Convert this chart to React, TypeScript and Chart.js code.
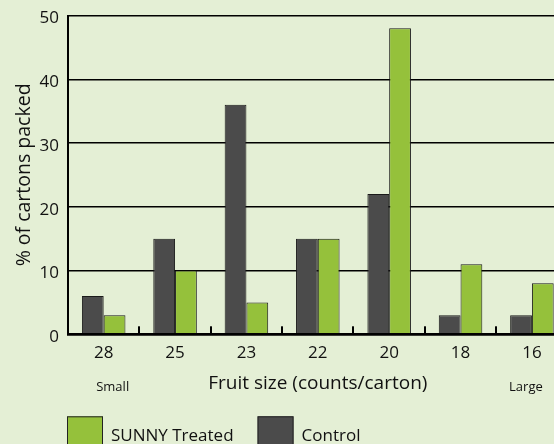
import React, { useEffect, useRef } from "react";
import { Chart, registerables } from "chart.js";

Chart.register(...registerables);

const categories = ["28", "25", "23", "22", "20", "18", "16"];
const controlValues = [6, 15, 36, 15, 22, 3, 3];
const treatedValues = [3, 10, 5, 15, 48, 11, 8];
const yTickValues = [0, 10, 20, 30, 40, 50];
const sizeEndLabels = ["Small", "Large"];
const seriesNames = ["Control", "SUNNY Treated"];

const FONT = "'Open Sans', 'Noto Sans', sans-serif";
const BG = "#e4efd5";
const GREEN = "#95c13b";
const DARK = "#4b4b4b";
const INK = "#111111";

const CANVAS_W = 580;
const CANVAS_H = 470;

const extrasPlugin = {
  id: "extras",
  afterDraw(chart: any) {
    const ctx = chart.ctx;
    const xs = chart.scales.x;
    const area = chart.chartArea;
    ctx.save();
    // inward tick marks at category boundaries
    ctx.fillStyle = "#000";
    for (let i = 1; i < categories.length; i++) {
      const x = Math.round((xs.getPixelForTick(i - 1) + xs.getPixelForTick(i)) / 2);
      ctx.fillRect(x - 1, area.bottom - 8, 2, 8);
    }

    // Small / Large
    ctx.fillStyle = INK;
    ctx.font = `13px ${FONT}`;
    ctx.textAlign = "center";
    ctx.textBaseline = "alphabetic";
    ctx.fillText(sizeEndLabels[0], xs.getPixelForTick(0) + 9, area.bottom + 57);
    ctx.fillText(sizeEndLabels[1], xs.getPixelForTick(categories.length - 1) - 6, area.bottom + 57);

    // legend (treated first, then control)
    const ds = chart.data.datasets;
    const order = [1, 0];
    let x = area.left - 1;
    const top = area.bottom + 82;
    ctx.font = `17px ${FONT}`;
    ctx.textAlign = "left";
    for (const idx of order) {
      const d = ds[idx];
      ctx.fillStyle = d.backgroundColor;
      ctx.fillRect(x, top, 36, 40);
      ctx.strokeStyle = "#222";
      ctx.lineWidth = 1;
      ctx.strokeRect(x + 0.5, top + 0.5, 35, 40);
      ctx.fillStyle = INK;
      ctx.fillText(d.label, x + 44, top + 25);
      const w = ctx.measureText(d.label).width;
      x = x + 44 + w + 24;
    }
    ctx.restore();
  },
};

export default function App() {
  const ref = useRef<HTMLCanvasElement>(null);
  useEffect(() => {
    const canvas = ref.current!;
    const chart = new Chart(canvas, {
      type: "bar",
      data: {
        labels: categories,
        datasets: [
          {
            label: seriesNames[0],
            data: controlValues,
            backgroundColor: DARK,
            borderColor: "#1a1a1a",
            borderWidth: 1,
            categoryPercentage: 0.61,
            barPercentage: 1,
          },
          {
            label: seriesNames[1],
            data: treatedValues,
            backgroundColor: GREEN,
            borderColor: "#1a1a1a",
            borderWidth: 1,
            categoryPercentage: 0.61,
            barPercentage: 1,
          },
        ],
      },
      options: {
        responsive: false,
        animation: false,
        devicePixelRatio: 1,
        layout: { padding: { left: 0, top: 15.5, right: CANVAS_W - 567.6, bottom: 0 } },
        plugins: {
          legend: { display: false },
          tooltip: { enabled: false },
        },
        scales: {
          x: {
            grid: { display: false, drawTicks: false },
            border: { display: true, color: "#000", width: 2.5, z: 1 },
            ticks: { color: INK, font: { family: FONT, size: 17 }, padding: 9 },
            title: {
              display: true,
              text: "Fruit size (counts/carton)",
              color: INK,
              font: { family: FONT, size: 19 },
              padding: { top: 0, bottom: CANVAS_H - 384 - 11.4 },
            },
            afterFit: (s: any) => {
              s.height = CANVAS_H - 334.3;
              s.paddingLeft = 0;
              s.paddingRight = 0;
            },
          },
          y: {
            min: 0,
            max: 50,
            afterBuildTicks: (s: any) => {
              s.ticks = yTickValues.map((v) => ({ value: v }));
            },
            grid: { color: "#000", lineWidth: 1.5, drawTicks: false },
            border: { display: true, color: "#000", width: 2 },
            ticks: { color: INK, font: { family: FONT, size: 17 }, padding: 9, labelOffset: 3 },
            title: {
              display: true,
              text: "% of cartons packed",
              color: INK,
              font: { family: FONT, size: 19.5 },
              padding: { top: 12.6, bottom: 0 },
            },
            afterFit: (s: any) => {
              s.width = 68;
              s.paddingTop = 0;
              s.paddingBottom = 0;
            },
          },
        },
      },
      plugins: [extrasPlugin],
    });
    return () => chart.destroy();
  }, []);

  return (
    <div
      style={{
        position: "fixed",
        left: 0,
        top: 0,
        width: 554,
        height: 444,
        overflow: "hidden",
        background: BG,
      }}
    >
      <canvas ref={ref} width={CANVAS_W} height={CANVAS_H} style={{ display: "block" }} />
    </div>
  );
}
